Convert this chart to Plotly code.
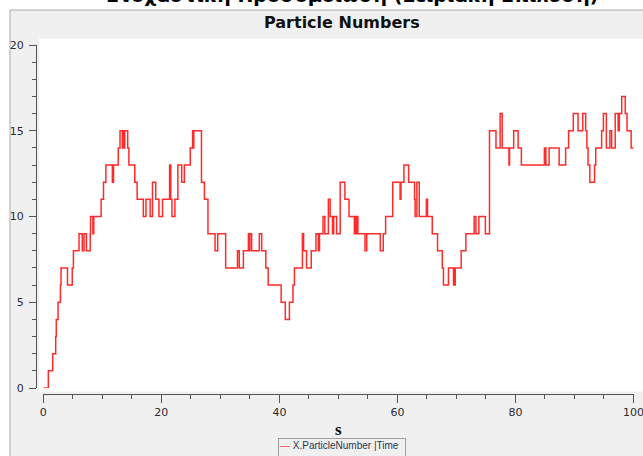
import plotly.graph_objects as go

# ---- data ----
time_s = [0, 0.85, 1.6, 2.1, 2.2, 2.5, 2.9, 3.0, 4.1, 4.9, 5.1, 6.05, 6.6, 6.9, 7.3, 7.95, 8.0, 8.4, 8.55,
          9.8, 10.2, 10.6, 11.7, 11.9, 12.7, 13.0, 13.4, 13.5, 13.7, 13.8, 14.3, 14.5, 15.5, 15.9, 16.95,
          17.4, 18.1, 18.5, 19.05, 19.6, 20.2, 21.4, 21.6, 21.8, 22.3, 22.8, 23.45, 23.9, 24.9, 25.3, 25.4,
          25.5, 26.8, 27.3, 27.9, 29.1, 29.55, 30.9, 32.9, 33.2, 33.9, 34.75, 34.9, 35.0, 35.3, 36.6, 37.0,
          37.7, 38.1, 40.3, 41.0, 41.7, 42.3, 42.55, 43.9, 44.1, 44.6, 45.4, 46.2, 46.6, 46.8, 47.4, 47.7,
          48.3, 48.6, 49.0, 49.2, 49.7, 50.3, 51.1, 51.8, 52.7, 52.9, 53.0, 53.2, 53.3, 54.5, 54.8, 57.1,
          57.6, 58.0, 59.2, 60.45, 60.6, 61.1, 61.9, 62.9, 63.0, 63.3, 63.7, 64.9, 65.1, 65.9, 66.8, 67.6,
          67.8, 68.65, 69.5, 69.6, 69.7, 69.8, 70.8, 71.6, 73.0, 73.3, 73.8, 74.9, 75.6, 76.7, 77.4, 77.75,
          78.9, 79.0, 79.7, 80.45, 81.0, 84.9, 85.15, 85.7, 87.4, 88.5, 89.0, 89.8, 90.6, 91.4, 91.9, 92.1,
          92.3, 92.6, 93.4, 93.6, 94.6, 94.9, 95.4, 96.0, 96.3, 96.9, 97.4, 97.6, 98.0, 98.6, 98.9, 99.6, 100]
particles = [0, 1, 2, 3, 4, 5, 6, 7, 6, 7, 8, 9, 8, 9, 8, 9, 10, 9, 10,
             11, 12, 13, 12, 13, 14, 15, 14, 15, 14, 15, 14, 13, 12, 11, 10,
             11, 10, 12, 11, 10, 11, 13, 11, 10, 11, 13, 12, 13, 14, 15, 14,
             15, 12, 11, 9, 8, 9, 7, 8, 7, 8, 9, 8, 9, 8, 9, 8,
             7, 6, 5, 4, 5, 6, 7, 9, 8, 7, 8, 9, 8, 9, 10, 9,
             11, 10, 9, 10, 9, 12, 11, 10, 9, 10, 9, 10, 9, 8, 9, 8,
             9, 10, 12, 11, 12, 13, 12, 11, 10, 12, 10, 11, 10, 9, 8, 7,
             6, 7, 6, 7, 6, 7, 8, 9, 10, 9, 10, 9, 15, 14, 16, 14,
             13, 14, 15, 14, 13, 14, 13, 14, 13, 14, 15, 16, 15, 16, 15, 14,
             13, 12, 13, 14, 15, 16, 14, 15, 14, 16, 15, 16, 17, 16, 15, 14, 14]

x_ticks = [0, 20, 40, 60, 80, 100]
y_ticks = [0, 5, 10, 15, 20]
x_range = [0, 100]
y_range = [0, 20]

window_title = "Στοχαστική Προσομοίωση (Σειριακή Επίλυση)"
chart_title = "Particle Numbers"
x_title = "s"
series_name = "X.ParticleNumber |Time"

# ---- layout helpers (screen pixel -> paper; body margin removed below) ----
# figure is a little wider than the 643px window so the cut-off "100" label still renders
W, H = 660, 456
def px(x):
    return x / W
def py(y):
    return 1 - y / H

axis_col = "#555555"
lbl_col = "#2a2a33"

fig = go.Figure()
fig.add_trace(go.Scatter(
    x=time_s, y=particles, mode="lines", name=series_name,
    line=dict(color="#ff2a2a", width=1.5, shape="hv"),
    showlegend=False,
))

fig.update_layout(
    width=W, height=H,
    margin=dict(l=0, r=0, t=0, b=0, autoexpand=False),
    paper_bgcolor="white",
    plot_bgcolor="white",
    xaxis=dict(
        domain=[px(43.3), px(633.5)], range=x_range, anchor="free", position=py(394),
        tickmode="array", tickvals=x_ticks,
        ticks="outside", ticklen=8, tickwidth=1, tickcolor=axis_col,
        showline=True, linecolor=axis_col, linewidth=1,
        showgrid=False, zeroline=False,
        minor=dict(ticks="outside", ticklen=4, tickwidth=1, tickcolor=axis_col, dtick=5, tick0=0, showgrid=False),
        tickfont=dict(family="DejaVu Sans", size=11, color=lbl_col),
    ),
    yaxis=dict(
        domain=[py(388), py(45)], range=y_range, anchor="free", position=px(36),
        tickmode="array", tickvals=y_ticks,
        ticks="outside", ticklen=7, tickwidth=1, tickcolor=axis_col,
        showline=True, linecolor=axis_col, linewidth=1,
        showgrid=False, zeroline=False, ticklabelstandoff=3,
        minor=dict(ticks="outside", ticklen=4, tickwidth=1, tickcolor=axis_col, dtick=1, tick0=0, showgrid=False),
        tickfont=dict(family="DejaVu Sans", size=11, color=lbl_col),
    ),
    shapes=[
        # panel background with frame
        dict(type="rect", xref="paper", yref="paper", layer="below",
             x0=px(10), x1=px(680), y0=py(480), y1=py(10),
             fillcolor="#f0f0f0", line=dict(color="#a8a8a8", width=1)),
        # white canvas
        dict(type="rect", xref="paper", yref="paper", layer="below",
             x0=px(39), x1=px(680), y0=py(391.5), y1=py(38.5),
             fillcolor="white", line=dict(width=0)),
    ],
    annotations=[
        dict(text="<b>" + window_title + "</b>", xref="paper", yref="paper",
             x=px(352), y=py(-5), xanchor="center", yanchor="middle", showarrow=False,
             font=dict(family="DejaVu Sans", size=19, color="black")),
        dict(text="<b>" + chart_title + "</b>", xref="paper", yref="paper",
             x=px(342), y=py(22), xanchor="center", yanchor="middle", showarrow=False,
             font=dict(family="DejaVu Sans", size=16, color="#111111")),
        dict(text="<b>" + x_title + "</b>", xref="paper", yref="paper",
             x=px(338), y=py(429), xanchor="center", yanchor="middle", showarrow=False,
             font=dict(family="Liberation Serif", size=17, color="black")),
        dict(text='<span style="color:#ff4040">—</span> ' + series_name, xref="paper", yref="paper",
             x=px(277.5), y=py(438), xanchor="left", yanchor="top", showarrow=False,
             width=124, height=30, align="left", valign="top", borderpad=1,
             bordercolor="#a0a0a0", borderwidth=1, bgcolor="#f0f0f0",
             font=dict(family="Liberation Sans", size=10, color="#2a3550")),
    ],
)

fig.write_html(
    "out.html",
    config={"displayModeBar": False},
    post_script="document.body.style.margin='0px';document.body.style.overflow='hidden';",
)
